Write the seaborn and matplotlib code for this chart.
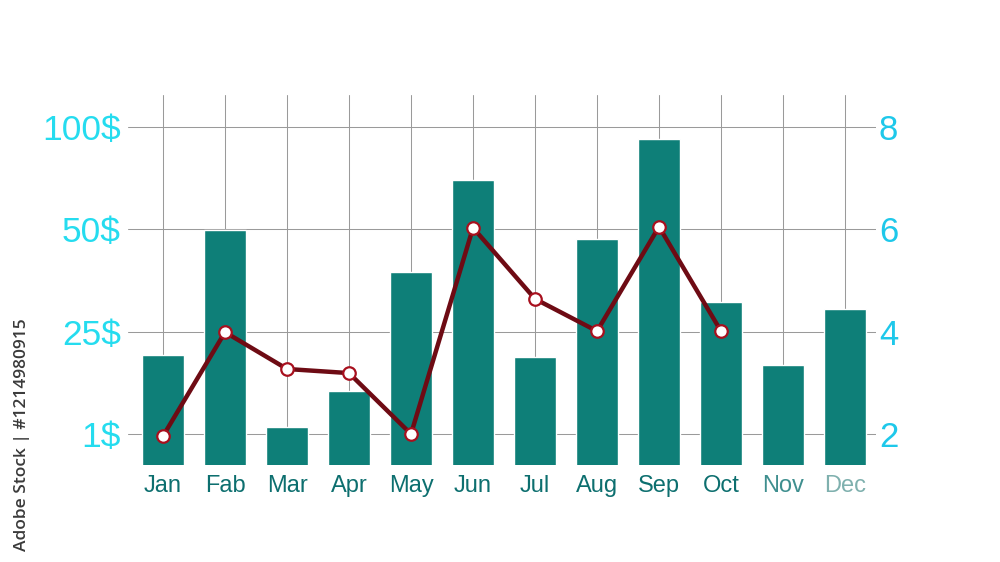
import matplotlib
matplotlib.use("Agg")
import matplotlib.pyplot as plt
import numpy as np
import pandas as pd
import seaborn as sns

months = ["Jan", "Fab", "Mar", "Apr", "May", "Jun", "Jul", "Aug", "Sep", "Oct", "Nov", "Dec"]
bar_values = [3.54, 5.99, 2.14, 2.84, 5.17, 6.96, 3.50, 5.81, 7.77, 4.58, 3.35, 4.44]
line_values = [1.96, 3.99, 3.27, 3.19, 2.00, 6.03, 4.64, 4.01, 6.05, 4.01]
right_ticks = [2, 4, 6, 8]
left_labels = ["1$", "25$", "50$", "100$"]
month_colors = ["#0d6f6f"] * 10 + ["#3f8f8f", "#7fb0ae"]

sns.set_theme(style="white")
plt.rcParams["font.family"] = ["Liberation Sans", "DejaVu Sans"]

fig = plt.figure(figsize=(10, 5.62), dpi=100)
ax = fig.add_axes([0.128, 0.1726, 0.748, 0.6584])

df = pd.DataFrame({"month": months, "value": bar_values})
sns.barplot(data=df, x="month", y="value", color="#0e7f78", saturation=1,
            width=0.68, ax=ax, zorder=2)

line_df = pd.DataFrame({"pos": np.arange(len(line_values)), "value": line_values})
sns.lineplot(data=line_df, x="pos", y="value", color="#6e0b14", linewidth=3.2,
             marker="o", markersize=9, markerfacecolor="white",
             markeredgecolor="#a8101e", markeredgewidth=1.6, ax=ax, zorder=4)

ax.set_xlim(-0.565, 11.5)
ax.set_ylim(1.394, 8.625)
ax.set_yticks(right_ticks)
ax.set_yticklabels(left_labels, fontsize=25.5, color="#25dcef")
ax.set_xticks(range(len(months)))
ax.set_xticklabels(months, fontsize=17)
for lbl, c in zip(ax.get_xticklabels(), month_colors):
    lbl.set_color(c)
ax.tick_params(axis="y", length=0, pad=5)
ax.tick_params(axis="x", length=0, pad=7)
ax.set_xlabel("")
ax.set_ylabel("")
ax.grid(True, color="#9a9a9a", linewidth=0.75)
ax.set_axisbelow(True)
for s in ax.spines.values():
    s.set_visible(False)

ax2 = ax.twinx()
ax2.set_ylim(ax.get_ylim())
ax2.set_yticks(right_ticks)
ax2.set_yticklabels([str(t) for t in right_ticks], fontsize=25, color="#1ec8ea")
ax2.tick_params(axis="y", length=0, pad=2)
for s in ax2.spines.values():
    s.set_visible(False)
ax2.grid(False)

fig.text(0.022, 1 - 318 / 562, "Adobe Stock | #1214980915", rotation=90,
         fontsize=12.5, color="#3a3a3a", family=["Open Sans", "DejaVu Sans"],
         fontweight="semibold", ha="center", va="top")

fig.savefig("out.png", dpi=100)
